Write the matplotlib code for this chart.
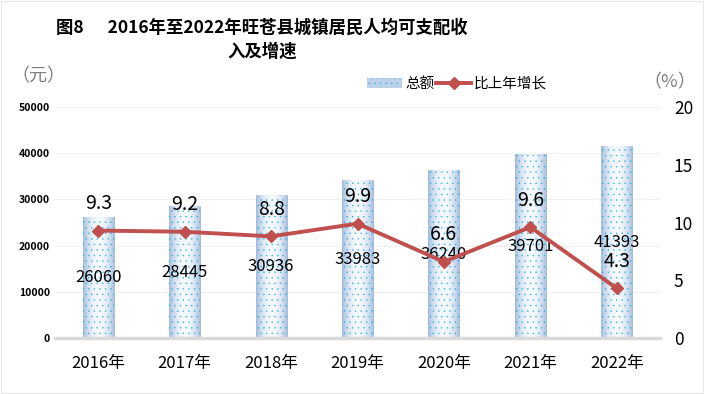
import numpy as np
import matplotlib
matplotlib.use("Agg")
import matplotlib.pyplot as plt
from matplotlib.patches import Patch, Rectangle
from matplotlib.lines import Line2D

plt.rcParams['font.family'] = ['Noto Sans CJK SC', 'DejaVu Sans']
plt.rcParams['hatch.linewidth'] = 0.2

years = ["2016年", "2017年", "2018年", "2019年", "2020年", "2021年", "2022年"]
income = [26060, 28445, 30936, 33983, 36240, 39701, 41393]
growth = [9.3, 9.2, 8.8, 9.9, 6.6, 9.6, 4.3]
left_ticks = [0, 10000, 20000, 30000, 40000, 50000]
right_ticks = [0, 5, 10, 15, 20]

fig = plt.figure(figsize=(7.04, 3.94), dpi=100)
ax = fig.add_axes([55 / 704, (394 - 338) / 394, 605 / 704, 231 / 394])
ax2 = ax.twinx()

x = np.arange(len(years))
w = 0.36

# bars: horizontal gradient (blue edges, white centre) + cyan dots
grad = np.linspace(-1, 1, 64)
grad = np.abs(grad) ** 2.0
cmap = matplotlib.colors.LinearSegmentedColormap.from_list("bar", ["#f7fafd", "#a3bcdd"])
for xi, v in zip(x, income):
    ax.imshow(grad[None, :], extent=(xi - w / 2, xi + w / 2, 0, v), aspect="auto",
              cmap=cmap, vmin=0, vmax=1, zorder=2, interpolation="bilinear")
bars = ax.bar(x, income, width=w, facecolor="none", edgecolor="#14a9e6",
              hatch="...", linewidth=0, zorder=3)
for xi, v in zip(x, income):
    ax.text(xi, v / 2, str(v), ha="center", va="center", fontsize=12, zorder=6)

ax.set_xlim(-0.5, len(years) - 0.5)
ax.set_ylim(0, 50000)
ax.set_yticks(left_ticks)
ax.set_yticklabels([str(t) for t in left_ticks], fontsize=7.5, fontweight="bold")
ax.set_xticks(x)
ax.set_xticklabels(years, fontsize=12)
ax.tick_params(axis="both", length=0)
ax.tick_params(axis="x", pad=12)
ax.grid(axis="y", color="#f0f0f0", lw=0.8, zorder=0)
ax.set_axisbelow(True)
for s in ["top", "right", "left"]:
    ax.spines[s].set_visible(False)
ax.spines["bottom"].set_color("#d9d9d9")
ax.spines["bottom"].set_linewidth(2.5)

ax2.plot(x, growth, color="#c0504d", lw=2.8, marker="D", markersize=6.5, zorder=5)
for xi, g in zip(x, growth):
    ax2.annotate(f"{g}", (xi, g), xytext=(0, 19.5), textcoords="offset points",
                 ha="center", va="center", fontsize=14, zorder=7)
ax2.set_ylim(0, 20)
ax2.set_yticks(right_ticks)
ax2.set_yticklabels([str(t) for t in right_ticks], fontsize=12.5)
ax2.tick_params(axis="y", length=0, pad=10)
for s in ["top", "right", "left", "bottom"]:
    ax2.spines[s].set_visible(False)

handles = [Patch(facecolor="#bcd0ea", edgecolor="#14a9e6", hatch="...", linewidth=0),
           Line2D([], [], color="#c0504d", lw=2.8, marker="D", markersize=6.5)]
ax.legend(handles, ["总额", "比上年增长"], loc="center", bbox_to_anchor=(0.665, 1.10),
          ncol=2, frameon=False, fontsize=10.5, handlelength=2.4, columnspacing=0.1,
          handletextpad=0.2)

fig.text(262 / 704, 1 - 28 / 394, "图8      2016年至2022年旺苍县城镇居民人均可支配收",
         ha="center", va="center", fontsize=12.5, fontweight="heavy")
fig.text(262 / 704, 1 - 52 / 394, "入及增速", ha="center", va="center",
         fontsize=12.5, fontweight="heavy")
fig.text(38 / 704, 1 - 76 / 394, "（元）", ha="center", va="center", fontsize=13, color="#7f7f7f")
fig.text(670 / 704, 1 - 82 / 394, "（%）", ha="center", va="center", fontsize=13, color="#7f7f7f")

fig.patches.append(Rectangle((0.002, 0.002), 0.996, 0.996, transform=fig.transFigure,
                             fill=False, edgecolor="#e6e6e6", lw=0.8))

fig.savefig("out.png", dpi=100)
